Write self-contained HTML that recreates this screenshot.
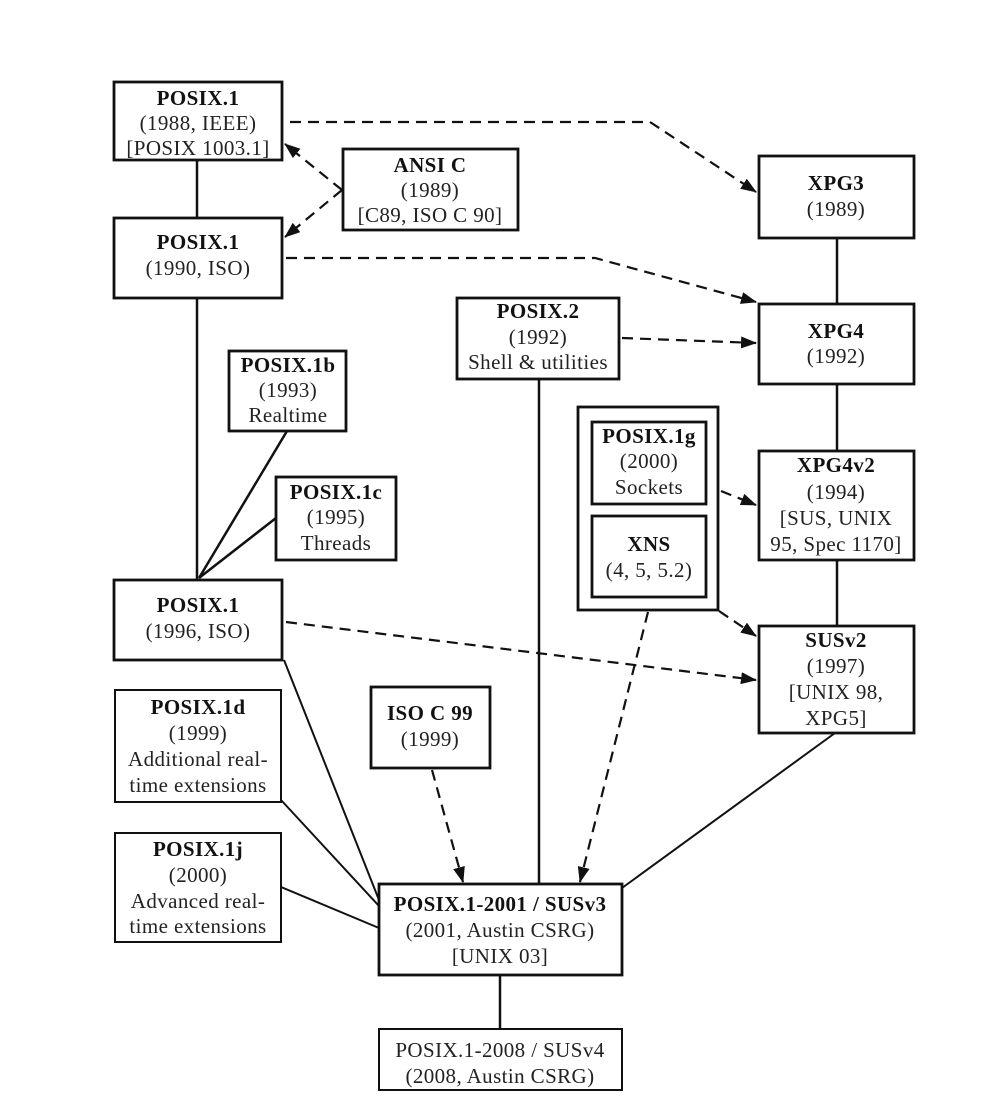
<!DOCTYPE html>
<html><head><meta charset="utf-8"><style>
html,body{margin:0;padding:0;background:#fff;}
svg{display:block;}
text{font-family:"Liberation Serif",serif;font-size:21px;letter-spacing:0.4px;fill:#222;text-anchor:middle;}
.b{font-weight:bold;fill:#111;}
</style></head><body>
<svg width="1000" height="1115" viewBox="0 0 1000 1115" xmlns="http://www.w3.org/2000/svg">
<defs>
<marker id="ar" viewBox="0 0 16 12" refX="15" refY="6" markerWidth="16" markerHeight="12" orient="auto-start-reverse" markerUnits="userSpaceOnUse"><path d="M0,0 L16,6 L0,12 z" fill="#111"/></marker>
</defs>
<g fill="none" stroke="#111" stroke-width="2.5">
<line x1="197" y1="160" x2="197" y2="218"/>
<line x1="197" y1="298" x2="197" y2="580"/>
<line x1="287" y1="431" x2="199" y2="578"/>
<line x1="276" y1="518" x2="199" y2="578"/>
<line x1="539" y1="379" x2="539" y2="884"/>
<line x1="837" y1="238" x2="837" y2="304"/>
<line x1="837" y1="384" x2="837" y2="451"/>
<line x1="837" y1="560" x2="837" y2="626"/>
<line x1="500" y1="975" x2="500" y2="1029"/>
</g>
<g fill="none" stroke="#111" stroke-width="2">
<line x1="284" y1="660" x2="379" y2="900"/>
<line x1="281" y1="800" x2="379" y2="906"/>
<line x1="281" y1="887" x2="379" y2="928"/>
<line x1="835" y1="733" x2="622" y2="888"/>
</g>
<g fill="none" stroke="#111" stroke-width="2.2" stroke-dasharray="11,7">
<path d="M290,122 L650,122 L756,192" marker-end="url(#ar)"/>
<line x1="342" y1="190" x2="285" y2="144" marker-end="url(#ar)"/>
<line x1="342" y1="190" x2="285" y2="237" marker-end="url(#ar)"/>
<path d="M286,258 L595,258 L756,302" marker-end="url(#ar)"/>
<line x1="622" y1="338" x2="756" y2="343" marker-end="url(#ar)"/>
<line x1="721" y1="491" x2="756" y2="505" marker-end="url(#ar)"/>
<line x1="719" y1="611" x2="756" y2="636" marker-end="url(#ar)"/>
<line x1="286" y1="622" x2="756" y2="680" marker-end="url(#ar)"/>
<line x1="432" y1="770" x2="463" y2="882" marker-end="url(#ar)"/>
<line x1="648" y1="612" x2="580" y2="882" marker-end="url(#ar)"/>
</g>
<g fill="#fff" stroke="#111" stroke-width="2.8">
<rect x="114" y="82" width="168" height="78"/>
<rect x="343" y="149" width="175" height="81"/>
<rect x="759" y="156" width="155" height="82"/>
<rect x="114" y="218" width="168" height="80"/>
<rect x="457" y="298" width="162" height="81"/>
<rect x="759" y="304" width="155" height="80"/>
<rect x="229" y="351" width="117" height="80"/>
<rect x="578" y="407" width="140" height="203"/>
<rect x="592" y="422" width="114" height="82"/>
<rect x="592" y="516" width="114" height="81"/>
<rect x="759" y="451" width="155" height="109"/>
<rect x="276" y="477" width="120" height="83"/>
<rect x="114" y="580" width="168" height="80"/>
<rect x="759" y="626" width="155" height="107"/>
<rect x="371" y="687" width="119" height="81"/>
<rect x="379" y="884" width="243" height="91"/>
</g>
<g fill="#fff" stroke="#111" stroke-width="2">
<rect x="115" y="690" width="166" height="112"/>
<rect x="115" y="833" width="166" height="109"/>
<rect x="379" y="1029" width="243" height="61"/>
</g>
<text class="b" x="198" y="105">POSIX.1</text>
<text x="198" y="130">(1988, IEEE)</text>
<text x="198" y="155">[POSIX 1003.1]</text>

<text class="b" x="430" y="172">ANSI C</text>
<text x="430" y="197">(1989)</text>
<text x="430" y="222">[C89, ISO C 90]</text>

<text class="b" x="836" y="190">XPG3</text>
<text x="836" y="216">(1989)</text>

<text class="b" x="198" y="249">POSIX.1</text>
<text x="198" y="275">(1990, ISO)</text>

<text class="b" x="538" y="318">POSIX.2</text>
<text x="538" y="344">(1992)</text>
<text x="538" y="369">Shell &amp; utilities</text>

<text class="b" x="836" y="338">XPG4</text>
<text x="836" y="363">(1992)</text>

<text class="b" x="288" y="372">POSIX.1b</text>
<text x="288" y="397">(1993)</text>
<text x="288" y="422">Realtime</text>

<text class="b" x="649" y="443">POSIX.1g</text>
<text x="649" y="468">(2000)</text>
<text x="649" y="494">Sockets</text>

<text class="b" x="649" y="551">XNS</text>
<text x="649" y="577">(4, 5, 5.2)</text>

<text class="b" x="836" y="472">XPG4v2</text>
<text x="836" y="499">(1994)</text>
<text x="836" y="525">[SUS, UNIX</text>
<text x="836" y="551">95, Spec 1170]</text>

<text class="b" x="336" y="499">POSIX.1c</text>
<text x="336" y="524">(1995)</text>
<text x="336" y="550">Threads</text>

<text class="b" x="198" y="612">POSIX.1</text>
<text x="198" y="638">(1996, ISO)</text>

<text class="b" x="836" y="647">SUSv2</text>
<text x="836" y="673">(1997)</text>
<text x="836" y="699">[UNIX 98,</text>
<text x="836" y="725">XPG5]</text>

<text class="b" x="198" y="714">POSIX.1d</text>
<text x="198" y="740">(1999)</text>
<text x="198" y="766">Additional real-</text>
<text x="198" y="792">time extensions</text>

<text class="b" x="430" y="720">ISO C 99</text>
<text x="430" y="746">(1999)</text>

<text class="b" x="198" y="856">POSIX.1j</text>
<text x="198" y="882">(2000)</text>
<text x="198" y="908">Advanced real-</text>
<text x="198" y="933">time extensions</text>

<text class="b" x="500" y="911">POSIX.1-2001 / SUSv3</text>
<text x="500" y="937">(2001, Austin CSRG)</text>
<text x="500" y="963">[UNIX 03]</text>

<text x="500" y="1057">POSIX.1-2008 / SUSv4</text>
<text x="500" y="1083">(2008, Austin CSRG)</text>
</svg>
</body></html>
